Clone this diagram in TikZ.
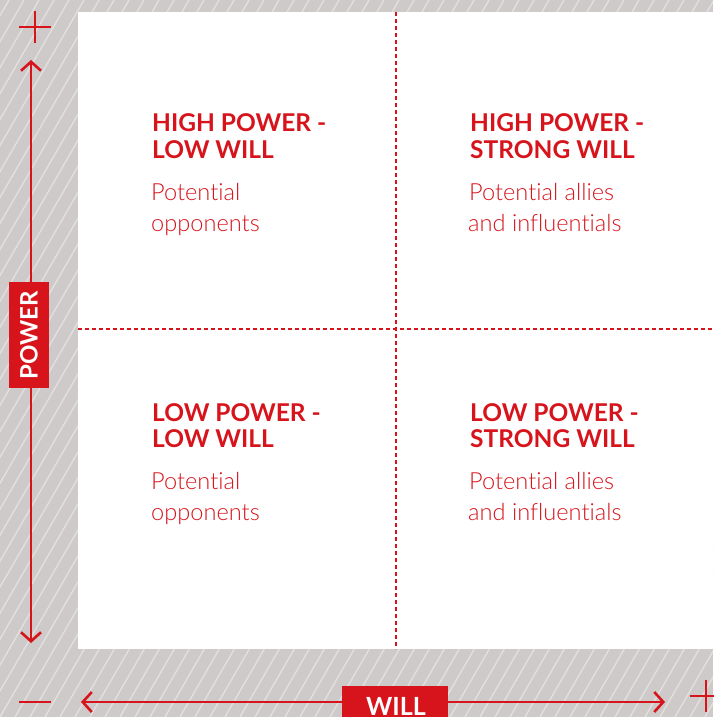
\documentclass[tikz,border=0pt]{standalone}
\usepackage{fontspec}
\setmainfont[Ligatures=NoCommon]{Lato}
\setsansfont[Ligatures=NoCommon]{Lato}
\newfontfamily\lightfont[Ligatures=NoCommon]{Lato Light}
\usetikzlibrary{arrows.meta}
\definecolor{brandred}{HTML}{D7141C}
\definecolor{hatchgrey}{HTML}{CDCAC9}
\definecolor{hatchline}{HTML}{E2E0DF}
\tikzset{
  axisline/.style={brandred, line width=2.6pt, -{Straight Barb[length=9pt,width=20pt,line width=2.6pt]}},
  signbar/.style={brandred, line width=2.6pt},
  divider/.style={brandred, line width=1.1pt, dash pattern=on 4pt off 3pt},
  axislabel/.style={fill=brandred, text=white, font=\fontsize{24}{24}\selectfont\bfseries, inner sep=0pt, minimum width=106pt, minimum height=40pt},
  headline/.style={anchor=base west, inner sep=0pt, text=brandred, font=\fontsize{24.5}{24.5}\selectfont\bfseries},
  bodyline/.style={anchor=base west, inner sep=0pt, text=brandred, font=\fontsize{23.6}{23.6}\lightfont}
}
\begin{document}
\begin{tikzpicture}[x=1pt,y=-1pt]
  \useasboundingbox (0,0) rectangle (713,717);
  % hatched background
  \fill[hatchgrey] (0,0) rectangle (713,717);
  \begin{scope}
    \clip (0,0) rectangle (713,717);
    \foreach \k in {-30,...,50} {
      \draw[hatchline, line width=1.4pt] ({\k*15},717) -- ({\k*15+414},0);
    }
  \end{scope}
  % white grid panel
  \fill[white] (78,12) rectangle (713,649);
  \draw[divider] (396,12) -- (396,649);
  \draw[divider] (78,329) -- (713,329);

  % vertical axis
  \coordinate (ptop) at (31,60);
  \coordinate (pbot) at (31,643);
  \draw[axisline] (31,320) -- (ptop);
  \draw[axisline] (31,350) -- (pbot);
  \node[axislabel, minimum width=40pt, minimum height=106pt] (power) at (29,335) {\rotatebox{90}{POWER}};
  \draw[signbar] (19,27) -- (51,27);
  \draw[signbar] (35,11) -- (35,43);

  % horizontal axis
  \coordinate (wleft) at (81,702);
  \coordinate (wright) at (665,702);
  \node[axislabel, minimum height=44pt, anchor=north] (will) at (395,686) {};
  \node[anchor=base, inner sep=0pt, text=white, font=\fontsize{25}{25}\selectfont\bfseries] (willtext) at (396,715) {WILL};
  \draw[axisline] (will.west |- wleft) -- (wleft);
  \draw[axisline] (will.east |- wright) -- (wright);
  \draw[signbar] (19,702) -- (51,702);
  \draw[signbar] (690,696) -- (722,696);
  \draw[signbar] (706,680) -- (706,712);

  % quadrant texts
  \node[headline] (q1a) at (152,131) {HIGH POWER -};
  \node[headline] (q1b) at (152,158) {LOW WILL};
  \node[bodyline] (q1c) at (151,200) {Potential};
  \node[bodyline] (q1d) at (151,231) {opponents};

  \node[headline] (q2a) at (470,131) {HIGH POWER -};
  \node[headline] (q2b) at (470,158) {STRONG WILL};
  \node[bodyline] (q2c) at (469,200) {Potential allies};
  \node[bodyline] (q2d) at (468,231) {and influentials};

  \node[headline] (q3a) at (152,421) {LOW POWER -};
  \node[headline] (q3b) at (152,447) {LOW WILL};
  \node[bodyline] (q3c) at (151,489) {Potential};
  \node[bodyline] (q3d) at (151,520) {opponents};

  \node[headline] (q4a) at (470,421) {LOW POWER -};
  \node[headline] (q4b) at (470,447) {STRONG WILL};
  \node[bodyline] (q4c) at (469,489) {Potential allies};
  \node[bodyline] (q4d) at (468,520) {and influentials};
\end{tikzpicture}
\end{document}
